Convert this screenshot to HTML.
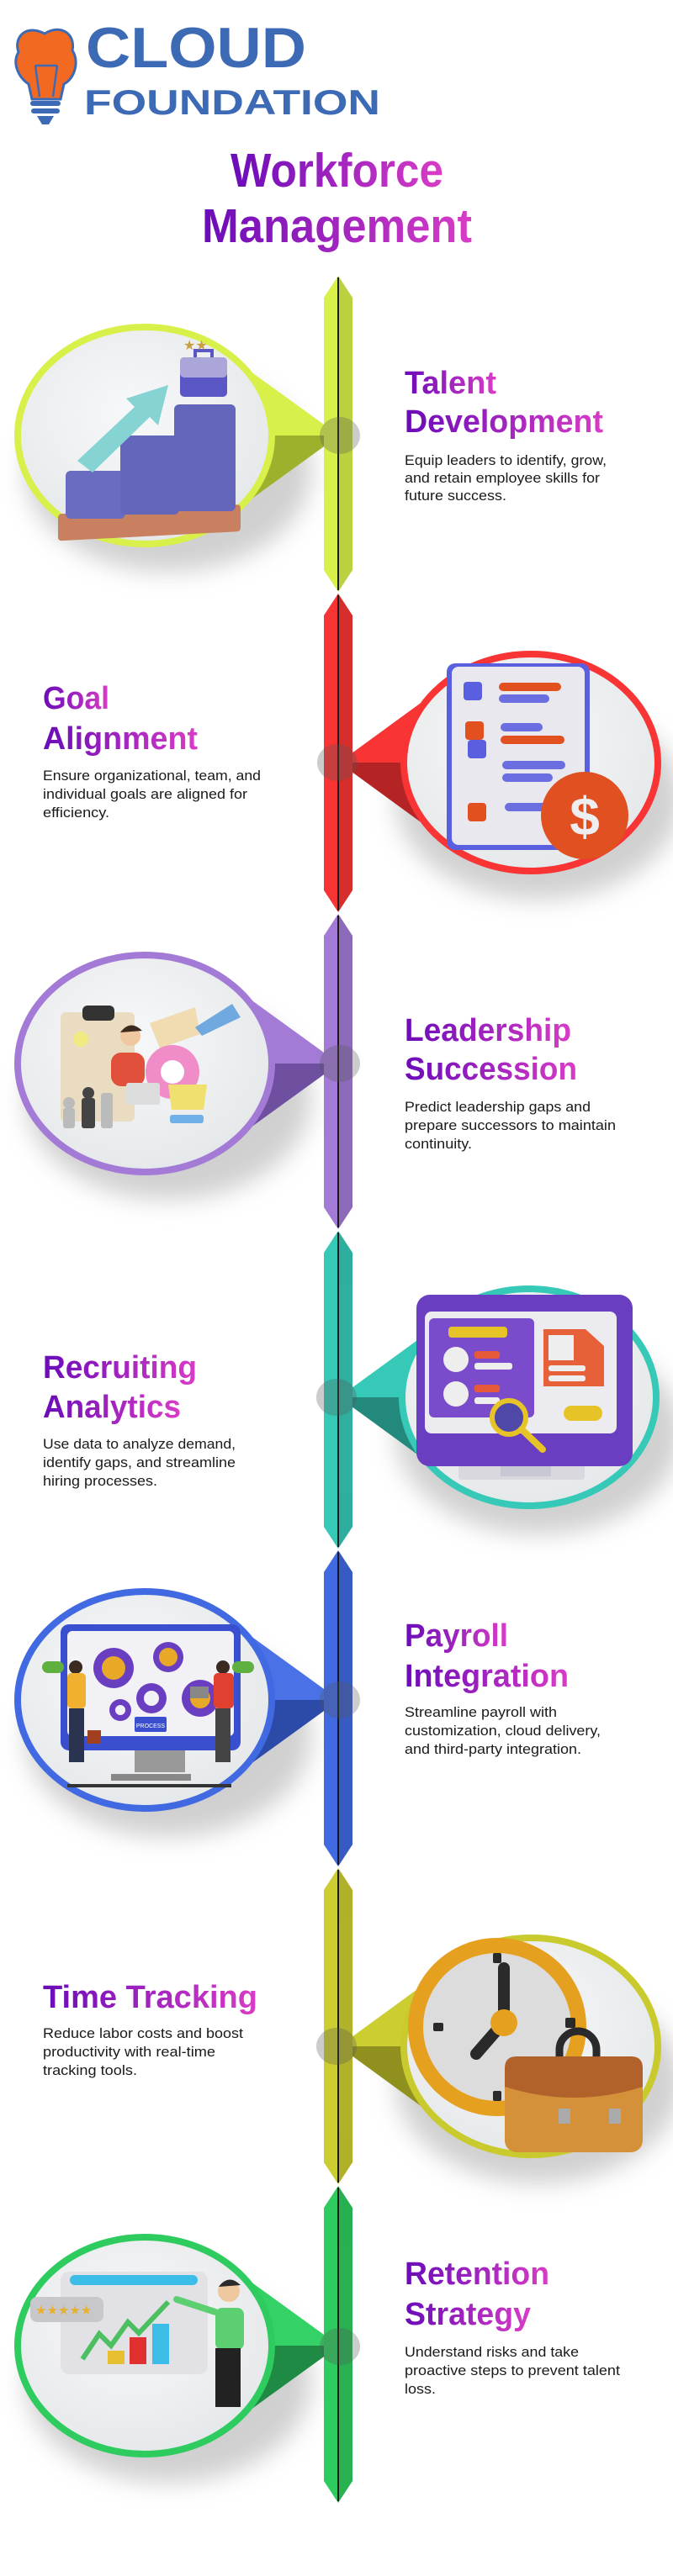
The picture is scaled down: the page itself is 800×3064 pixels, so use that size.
<!DOCTYPE html>
<html><head><meta charset="utf-8"><style>html,body{margin:0;padding:0;background:#fff}svg{display:block}</style></head>
<body>
<svg width="800" height="3064" viewBox="0 0 800 3064" xmlns="http://www.w3.org/2000/svg">
<defs>
<linearGradient id="hg" x1="0" y1="0" x2="1" y2="0"><stop offset="0" stop-color="#6a0cb8"/><stop offset="1" stop-color="#d93cc6"/></linearGradient>
<radialGradient id="bf" cx="0.45" cy="0.4" r="0.7"><stop offset="0" stop-color="#f7f8f9"/><stop offset="1" stop-color="#e3e6e8"/></radialGradient>
<filter id="sh" x="-30%" y="-30%" width="160%" height="160%"><feGaussianBlur stdDeviation="14"/></filter>
</defs>
<g font-family="'Liberation Sans', sans-serif">
<!-- Logo -->
<path d="M53 40 C30 28 16 45 22 62 C14 75 22 92 34 100 L38 118 L72 118 L76 100 C90 92 94 72 86 60 C90 40 72 28 53 40 Z" fill="#f26a22" stroke="#3d6ab5" stroke-width="3"/>
<path d="M42 78 L47 115 M68 78 L63 115 M42 78 L68 78" stroke="#3d6ab5" stroke-width="2.5" fill="none"/>
<rect x="36" y="120" width="36" height="6" rx="3" fill="#3d6ab5"/><rect x="37" y="129" width="34" height="6" rx="3" fill="#3d6ab5"/>
<path d="M44 138 L64 138 L58 148 L50 148 Z" fill="#3d6ab5"/>
<text x="102" y="80" font-size="68" font-weight="bold" fill="#3d6ab5" textLength="262" lengthAdjust="spacingAndGlyphs">CLOUD</text>
<text x="100" y="136" font-size="42" font-weight="bold" fill="#3d6ab5" textLength="352" lengthAdjust="spacingAndGlyphs">FOUNDATION</text>
<!-- Title -->
<text x="274" y="222" font-size="57" font-weight="bold" fill="url(#hg)" textLength="253" lengthAdjust="spacingAndGlyphs">Workforce</text>
<text x="240" y="288" font-size="57" font-weight="bold" fill="url(#hg)" textLength="321" lengthAdjust="spacingAndGlyphs">Management</text>

<!-- ========== Item template drawings ========== -->
<!-- 1 Talent (left) -->
<ellipse cx="200" cy="560" rx="170" ry="120" fill="#aaa" opacity="0.55" filter="url(#sh)"/>
<polygon points="265,418 403,518 265,518" fill="#d9f04a"/><polygon points="265,618 403,518 265,518" fill="#9fb12c"/>
<ellipse cx="172" cy="518" rx="151" ry="129" fill="url(#bf)" stroke="#d9f04a" stroke-width="8"/>
<rect x="69" y="605" width="217" height="32" rx="4" fill="#c98060" transform="skewY(-3) translate(0,10)"/>
<rect x="78" y="560" width="71" height="57" rx="6" fill="#6a6cc0"/>
<rect x="143" y="518" width="70" height="94" rx="6" fill="#6466bb"/>
<rect x="207" y="481" width="73" height="127" rx="6" fill="#6466bb"/>
<polygon points="92,548 160,484 150,474 200,458 188,506 178,496 110,562" fill="#86d3d3"/>
<rect x="214" y="425" width="56" height="47" rx="5" fill="#5b56c6"/><rect x="214" y="425" width="56" height="24" rx="5" fill="#aaa6da"/>
<path d="M232 425 v-8 h20 v8" stroke="#5b56c6" stroke-width="4" fill="none"/>
<text x="218" y="416" font-size="16" fill="#c8a040">★★</text>

<!-- 2 Goal (right) -->
<ellipse cx="640" cy="950" rx="170" ry="120" fill="#aaa" opacity="0.55" filter="url(#sh)"/>
<polygon points="540,807 403,907 540,907" fill="#f83434"/><polygon points="540,1007 403,907 540,907" fill="#b52424"/>
<ellipse cx="631" cy="907" rx="151" ry="129" fill="url(#bf)" stroke="#f83434" stroke-width="8"/>
<rect x="531" y="789" width="170" height="222" rx="10" fill="#5a5fe0"/><rect x="537" y="793" width="158" height="212" rx="8" fill="#e8e8ee"/>
<g fill="#5a5fe0"><rect x="551" y="811" width="22" height="22" rx="4"/><rect x="556" y="880" width="22" height="22" rx="4"/></g>
<g fill="#e35020"><rect x="553" y="858" width="22" height="22" rx="4"/><rect x="556" y="955" width="22" height="22" rx="4" /></g>
<rect x="593" y="812" width="74" height="10" rx="5" fill="#e35020"/><rect x="593" y="826" width="60" height="10" rx="5" fill="#6a6ee0"/>
<rect x="595" y="860" width="50" height="10" rx="5" fill="#6a6ee0"/><rect x="595" y="875" width="76" height="10" rx="5" fill="#e35020"/>
<rect x="597" y="905" width="75" height="10" rx="5" fill="#6a6ee0"/><rect x="597" y="920" width="60" height="10" rx="5" fill="#6a6ee0"/>
<rect x="600" y="955" width="50" height="10" rx="5" fill="#6a6ee0"/>
<circle cx="695" cy="970" r="52" fill="#e05020"/><text x="695" y="993" font-size="64" font-weight="bold" fill="#eee" text-anchor="middle">$</text>

<!-- 3 Leadership (left) -->
<ellipse cx="200" cy="1307" rx="170" ry="120" fill="#aaa" opacity="0.55" filter="url(#sh)"/>
<polygon points="265,1165 403,1265 265,1265" fill="#a37ad6"/><polygon points="265,1365 403,1265 265,1265" fill="#6e4fa0"/>
<ellipse cx="172" cy="1265" rx="151" ry="129" fill="url(#bf)" stroke="#a37ad6" stroke-width="8"/>
<rect x="72" y="1204" width="88" height="130" rx="6" fill="#eadcc0"/><rect x="98" y="1196" width="38" height="18" rx="6" fill="#333"/>
<circle cx="96" cy="1236" r="9" fill="#f0ea80"/>
<polygon points="178,1217 232,1198 238,1230 190,1247" fill="#f0dcb0"/>
<circle cx="205" cy="1275" r="32" fill="#f08cc8"/><circle cx="205" cy="1275" r="14" fill="#fff"/>
<circle cx="155" cy="1232" r="12" fill="#f0c8a0"/><path d="M143 1228 q12 -16 26 -2" fill="#3a2a20"/>
<rect x="132" y="1252" width="40" height="40" rx="12" fill="#e0503a"/><rect x="150" y="1288" width="40" height="26" rx="3" fill="#ddd"/>
<path d="M200 1290 h46 l-4 30 h-38 Z" fill="#f0e070"/><rect x="202" y="1326" width="40" height="10" rx="3" fill="#70b0e8"/>
<g fill="#444"><circle cx="105" cy="1300" r="7"/><rect x="97" y="1306" width="16" height="36" rx="3"/></g>
<g fill="#bbb"><circle cx="82" cy="1312" r="7"/><rect x="75" y="1318" width="14" height="24" rx="3"/><rect x="120" y="1300" width="14" height="42" rx="3"/></g>
<polygon points="232,1222 276,1194 286,1210 240,1232" fill="#70a8e0"/>

<!-- 4 Recruiting (right) -->
<ellipse cx="640" cy="1705" rx="170" ry="120" fill="#aaa" opacity="0.55" filter="url(#sh)"/>
<polygon points="540,1562 403,1662 540,1662" fill="#36c9b8"/><polygon points="540,1762 403,1662 540,1662" fill="#23897d"/>
<ellipse cx="629" cy="1662" rx="151" ry="129" fill="url(#bf)" stroke="#36c9b8" stroke-width="8"/>
<rect x="545" y="1740" width="150" height="20" rx="4" fill="#d8d8de"/><rect x="595" y="1742" width="60" height="14" fill="#c8c8d4"/>
<rect x="495" y="1540" width="257" height="204" rx="16" fill="#6a3ec0"/>
<rect x="505" y="1560" width="228" height="145" rx="8" fill="#ebebf0"/>
<rect x="510" y="1568" width="125" height="118" rx="6" fill="#7a4ccc"/>
<rect x="533" y="1578" width="70" height="13" rx="4" fill="#e6c428"/>
<circle cx="542" cy="1617" r="15" fill="#eee"/><circle cx="542" cy="1658" r="15" fill="#eee"/>
<rect x="564" y="1607" width="30" height="9" rx="3" fill="#e65a3a"/><rect x="564" y="1621" width="45" height="8" rx="3" fill="#eee"/>
<rect x="564" y="1647" width="30" height="9" rx="3" fill="#e65a3a"/><rect x="564" y="1662" width="30" height="8" rx="3" fill="#eee"/>
<path d="M646 1581 h50 l22 20 v48 h-72 Z" fill="#e6603a"/><rect x="652" y="1588" width="30" height="30" fill="#eee"/>
<rect x="652" y="1624" width="44" height="7" rx="3" fill="#eee"/><rect x="652" y="1636" width="44" height="7" rx="3" fill="#eee"/>
<rect x="670" y="1672" width="46" height="18" rx="9" fill="#e6c428"/>
<circle cx="605" cy="1686" r="20" fill="#5048a8" stroke="#e6c428" stroke-width="6"/><line x1="620" y1="1700" x2="645" y2="1724" stroke="#e6c428" stroke-width="8" stroke-linecap="round"/>

<!-- 5 Payroll (left) -->
<ellipse cx="200" cy="2065" rx="170" ry="120" fill="#aaa" opacity="0.55" filter="url(#sh)"/>
<polygon points="265,1922 403,2022 265,2022" fill="#4a72e6"/><polygon points="265,2122 403,2022 265,2022" fill="#2c4aa8"/>
<ellipse cx="172" cy="2022" rx="151" ry="129" fill="url(#bf)" stroke="#4169e1" stroke-width="8"/>
<rect x="160" y="2078" width="60" height="30" fill="#999"/><rect x="132" y="2110" width="95" height="8" fill="#888"/>
<rect x="72" y="1932" width="214" height="150" rx="10" fill="#3a4fd0"/><rect x="80" y="1940" width="198" height="125" rx="6" fill="#f2f2f6"/>
<g fill="#6a3ec0"><circle cx="135" cy="1984" r="24"/><circle cx="200" cy="1971" r="18"/><circle cx="180" cy="2020" r="18"/><circle cx="143" cy="2034" r="13"/><circle cx="238" cy="2020" r="22"/></g>
<g fill="#e8a828"><circle cx="135" cy="1984" r="14"/><circle cx="200" cy="1971" r="11"/><circle cx="238" cy="2020" r="12"/></g>
<g fill="#f2f2f6"><circle cx="180" cy="2020" r="9"/><circle cx="143" cy="2034" r="6"/></g>
<rect x="160" y="2042" width="38" height="18" rx="2" fill="#3a4fd0"/><text x="179" y="2055" font-size="7" fill="#fff" text-anchor="middle">PROCESS</text>
<rect x="50" y="1976" width="26" height="14" rx="7" fill="#60b040"/><rect x="276" y="1976" width="26" height="14" rx="7" fill="#60b040"/>
<circle cx="90" cy="1983" r="8" fill="#3a2a20"/><rect x="80" y="1990" width="22" height="42" rx="5" fill="#f0b030"/><rect x="82" y="2032" width="18" height="64" fill="#2a3450"/><rect x="104" y="2058" width="16" height="16" fill="#a04020"/>
<circle cx="265" cy="1983" r="8" fill="#3a2a20"/><rect x="254" y="1990" width="24" height="42" rx="5" fill="#e04030"/><rect x="256" y="2032" width="18" height="64" fill="#444"/><rect x="226" y="2006" width="22" height="14" fill="#888"/>
<rect x="80" y="2122" width="195" height="4" fill="#333"/>

<!-- 6 Time (right) -->
<ellipse cx="640" cy="2477" rx="170" ry="120" fill="#aaa" opacity="0.55" filter="url(#sh)"/>
<polygon points="540,2334 403,2434 540,2434" fill="#cccd30"/><polygon points="540,2534 403,2434 540,2434" fill="#8f901e"/>
<ellipse cx="631" cy="2434" rx="151" ry="129" fill="url(#bf)" stroke="#c9ca2d" stroke-width="8"/>
<circle cx="591" cy="2411" r="106" fill="#e6a020"/><circle cx="591" cy="2411" r="88" fill="#dcdcdc"/>
<g fill="#2a2a2a"><rect x="586" y="2323" width="10" height="12" rx="2"/><rect x="586" y="2487" width="10" height="12" rx="2"/><rect x="515" y="2406" width="12" height="10" rx="2"/><rect x="672" y="2400" width="12" height="12" rx="2"/></g>
<line x1="599" y1="2341" x2="599" y2="2405" stroke="#2a2a2a" stroke-width="14" stroke-linecap="round"/>
<line x1="599" y1="2405" x2="566" y2="2443" stroke="#2a2a2a" stroke-width="14" stroke-linecap="round"/>
<circle cx="599" cy="2406" r="16" fill="#e6a020"/>
<path d="M665 2452 v-14 a22 22 0 0 1 44 0 v14" stroke="#2a2a2a" stroke-width="9" fill="none"/>
<rect x="600" y="2448" width="164" height="112" rx="14" fill="#d4913a"/><path d="M600 2460 q0-14 14-14 h136 q14 0 14 14 v22 q-82 26 -164 0 Z" fill="#b0622a"/>
<rect x="664" y="2508" width="14" height="18" fill="#aaa"/><rect x="724" y="2508" width="14" height="18" fill="#aaa"/>

<!-- 7 Retention (left) -->
<ellipse cx="200" cy="2833" rx="170" ry="120" fill="#aaa" opacity="0.55" filter="url(#sh)"/>
<polygon points="265,2690 403,2790 265,2790" fill="#34d266"/><polygon points="265,2890 403,2790 265,2790" fill="#1f8a44"/>
<ellipse cx="172" cy="2790" rx="151" ry="129" fill="url(#bf)" stroke="#2ecb5e" stroke-width="8"/>
<rect x="72" y="2702" width="175" height="122" rx="10" fill="#e2e2e6"/>
<rect x="83" y="2706" width="152" height="12" rx="6" fill="#3cbde8"/>
<rect x="36" y="2732" width="87" height="30" rx="8" fill="#c8c8cc"/><text x="42" y="2753" font-size="15" fill="#e6b030">★★★★★</text>
<polyline points="98,2806 118,2776 132,2790 152,2762 165,2775 200,2738" stroke="#4cc060" stroke-width="6" fill="none"/>
<rect x="128" y="2796" width="20" height="16" fill="#e6c030"/><rect x="154" y="2780" width="20" height="32" fill="#e03030"/><rect x="181" y="2764" width="20" height="48" fill="#3cbde8"/>
<circle cx="272" cy="2725" r="13" fill="#f0c8a0"/><path d="M260 2720 q12 -16 26 -2" fill="#2a2a2a"/>
<rect x="256" y="2745" width="34" height="50" rx="8" fill="#5cd070"/><line x1="256" y1="2750" x2="210" y2="2735" stroke="#5cd070" stroke-width="8" stroke-linecap="round"/>
<rect x="256" y="2793" width="30" height="70" fill="#222"/>

<!-- Spine segments -->
<g>
<polygon points="402,328 419,354 419,678 402,704 385,678 385,354" fill="#d9f04a"/>
<polygon points="402,706 419,732 419,1059 402,1085 385,1059 385,732" fill="#f83434"/>
<polygon points="402,1087 419,1113 419,1436 402,1462 385,1436 385,1113" fill="#a37ad6"/>
<polygon points="402,1464 419,1490 419,1816 402,1842 385,1816 385,1490" fill="#36c9b8"/>
<polygon points="402,1844 419,1870 419,2194 402,2220 385,2194 385,1870" fill="#4169e1"/>
<polygon points="402,2222 419,2248 419,2572 402,2598 385,2572 385,2248" fill="#cccd30"/>
<polygon points="402,2600 419,2626 419,2951 402,2977 385,2951 385,2626" fill="#2ecb5e"/>
</g>
<g fill="#000" opacity="0.13">
<polygon points="402,328 419,354 419,678 402,704"/><polygon points="402,706 419,732 419,1059 402,1085"/>
<polygon points="402,1087 419,1113 419,1436 402,1462"/><polygon points="402,1464 419,1490 419,1816 402,1842"/>
<polygon points="402,1844 419,1870 419,2194 402,2220"/><polygon points="402,2222 419,2248 419,2572 402,2598"/>
<polygon points="402,2600 419,2626 419,2951 402,2977"/>
</g>
<g stroke="#1a1a1a" stroke-width="2">
<line x1="402" y1="330" x2="402" y2="702"/><line x1="402" y1="708" x2="402" y2="1083"/><line x1="402" y1="1089" x2="402" y2="1460"/>
<line x1="402" y1="1466" x2="402" y2="1840"/><line x1="402" y1="1846" x2="402" y2="2218"/><line x1="402" y1="2224" x2="402" y2="2596"/><line x1="402" y1="2602" x2="402" y2="2975"/>
</g>
<g fill="#555" opacity="0.3">
<ellipse cx="404" cy="518" rx="24" ry="22"/><ellipse cx="401" cy="907" rx="24" ry="22"/><ellipse cx="404" cy="1265" rx="24" ry="22"/>
<ellipse cx="400" cy="1662" rx="24" ry="22"/><ellipse cx="404" cy="2022" rx="24" ry="22"/><ellipse cx="400" cy="2434" rx="24" ry="22"/><ellipse cx="404" cy="2791" rx="24" ry="22"/>
</g>

<!-- Headings -->
<g font-size="38" font-weight="bold" fill="url(#hg)" lengthAdjust="spacingAndGlyphs">
<text x="481" y="468" textLength="109" lengthAdjust="spacingAndGlyphs">Talent</text>
<text x="481" y="514" textLength="236" lengthAdjust="spacingAndGlyphs">Development</text>
<text x="51" y="843" textLength="79" lengthAdjust="spacingAndGlyphs">Goal</text>
<text x="51" y="891" textLength="184" lengthAdjust="spacingAndGlyphs">Alignment</text>
<text x="481" y="1238" textLength="198" lengthAdjust="spacingAndGlyphs">Leadership</text>
<text x="481" y="1284" textLength="205" lengthAdjust="spacingAndGlyphs">Succession</text>
<text x="51" y="1639" textLength="183" lengthAdjust="spacingAndGlyphs">Recruiting</text>
<text x="51" y="1686" textLength="164" lengthAdjust="spacingAndGlyphs">Analytics</text>
<text x="481" y="1958" textLength="123" lengthAdjust="spacingAndGlyphs">Payroll</text>
<text x="481" y="2006" textLength="195" lengthAdjust="spacingAndGlyphs">Integration</text>
<text x="51" y="2388" textLength="255" lengthAdjust="spacingAndGlyphs">Time Tracking</text>
<text x="481" y="2717" textLength="172" lengthAdjust="spacingAndGlyphs">Retention</text>
<text x="481" y="2765" textLength="150" lengthAdjust="spacingAndGlyphs">Strategy</text>
</g>

<!-- Descriptions -->
<g font-size="16.5" fill="#1a1a1a">
<text x="481" y="553" textLength="240" lengthAdjust="spacingAndGlyphs">Equip leaders to identify, grow,</text>
<text x="481" y="574" textLength="232" lengthAdjust="spacingAndGlyphs">and retain employee skills for</text>
<text x="481" y="595" textLength="121" lengthAdjust="spacingAndGlyphs">future success.</text>
<text x="51" y="928" textLength="259" lengthAdjust="spacingAndGlyphs">Ensure organizational, team, and</text>
<text x="51" y="950" textLength="243" lengthAdjust="spacingAndGlyphs">individual goals are aligned for</text>
<text x="51" y="972" textLength="79" lengthAdjust="spacingAndGlyphs">efficiency.</text>
<text x="481" y="1322" textLength="221" lengthAdjust="spacingAndGlyphs">Predict leadership gaps and</text>
<text x="481" y="1344" textLength="251" lengthAdjust="spacingAndGlyphs">prepare successors to maintain</text>
<text x="481" y="1366" textLength="80" lengthAdjust="spacingAndGlyphs">continuity.</text>
<text x="51" y="1723" textLength="229" lengthAdjust="spacingAndGlyphs">Use data to analyze demand,</text>
<text x="51" y="1745" textLength="229" lengthAdjust="spacingAndGlyphs">identify gaps, and streamline</text>
<text x="51" y="1767" textLength="136" lengthAdjust="spacingAndGlyphs">hiring processes.</text>
<text x="481" y="2042" textLength="181" lengthAdjust="spacingAndGlyphs">Streamline payroll with</text>
<text x="481" y="2064" textLength="233" lengthAdjust="spacingAndGlyphs">customization, cloud delivery,</text>
<text x="481" y="2086" textLength="210" lengthAdjust="spacingAndGlyphs">and third-party integration.</text>
<text x="51" y="2424" textLength="238" lengthAdjust="spacingAndGlyphs">Reduce labor costs and boost</text>
<text x="51" y="2446" textLength="205" lengthAdjust="spacingAndGlyphs">productivity with real-time</text>
<text x="51" y="2468" textLength="112" lengthAdjust="spacingAndGlyphs">tracking tools.</text>
<text x="481" y="2803" textLength="207" lengthAdjust="spacingAndGlyphs">Understand risks and take</text>
<text x="481" y="2825" textLength="256" lengthAdjust="spacingAndGlyphs">proactive steps to prevent talent</text>
<text x="481" y="2847" textLength="37" lengthAdjust="spacingAndGlyphs">loss.</text>
</g>
</g>
</svg>
</body></html>
